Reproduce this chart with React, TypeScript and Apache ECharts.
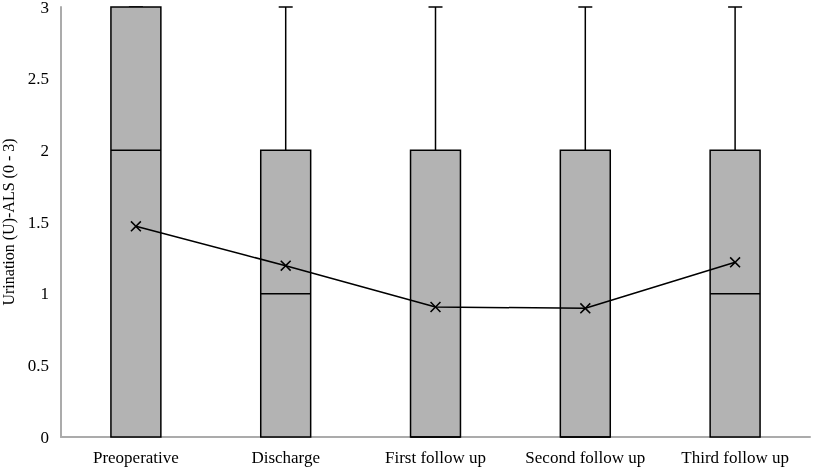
import React, { useEffect, useRef } from "react";
import * as echarts from "echarts";

const categories = ["Preoperative", "Discharge", "First follow up", "Second follow up", "Third follow up"];
// [min, Q1, median, Q3, max]
const boxStats = [
  [0, 0, 2, 3, 3],
  [0, 0, 1, 2, 3],
  [0, 0, 0, 2, 3],
  [0, 0, 0, 2, 3],
  [0, 0, 1, 2, 3],
];
const means = [1.47, 1.195, 0.907, 0.898, 1.219];
const yTicks = { min: 0, max: 3, interval: 0.5 };

const FONT = "'Liberation Serif', 'Times New Roman', serif";

export default function App() {
  const ref = useRef<HTMLDivElement>(null);
  useEffect(() => {
    if (!ref.current) return;
    const chart = echarts.init(ref.current, null, { renderer: "svg" });
    const boxData = boxStats.map((s, i) => [i, ...s]);
    chart.setOption({
      animation: false,
      grid: { left: 61, right: 3, top: 7, bottom: 34, containLabel: false, outerBoundsMode: "none" },
      xAxis: {
        type: "category",
        data: categories,
        axisLine: { show: true, lineStyle: { color: "#ababab", width: 2 } },
        axisTick: { show: false },
        axisLabel: { color: "#000", fontFamily: FONT, fontSize: 17, margin: 12, interval: 0, hideOverlap: false },
        splitLine: { show: false },
      },
      yAxis: {
        type: "value",
        min: yTicks.min,
        max: yTicks.max,
        interval: yTicks.interval,
        name: "Urination (U)-ALS (0 - 3)",
        nameLocation: "middle",
        nameRotate: 90,
        nameGap: 44,
        nameTextStyle: { color: "#000", fontFamily: FONT, fontSize: 16 },
        axisLine: { show: true, lineStyle: { color: "#ababab", width: 2 } },
        axisTick: { show: false },
        axisLabel: { color: "#000", fontFamily: FONT, fontSize: 17, margin: 12 },
        splitLine: { show: false },
      },
      series: [
        {
          type: "custom",
          data: boxData,
          encode: { x: 0, y: [1, 2, 3, 4, 5] },
          renderItem: (params: any, api: any) => {
            const idx = api.value(0);
            const vals = [1, 2, 3, 4, 5].map((k) => api.value(k));
            const pts = vals.map((v) => api.coord([idx, v]));
            const cx = pts[0][0];
            const bw = api.size([1, 0])[0] / 3;
            const hw = bw / 2;
            const cap = 7;
            const yMin = pts[0][1], yQ1 = pts[1][1], yMed = pts[2][1], yQ3 = pts[3][1], yMax = pts[4][1];
            const ls = { stroke: "#000", lineWidth: 1.5 };
            return {
              type: "group",
              children: [
                { type: "line", shape: { x1: cx, y1: yQ3, x2: cx, y2: yMax }, style: ls },
                { type: "line", shape: { x1: cx - cap, y1: yMax, x2: cx + cap, y2: yMax }, style: ls },
                { type: "line", shape: { x1: cx, y1: yQ1, x2: cx, y2: yMin }, style: ls },
                {
                  type: "rect",
                  shape: { x: cx - hw, y: yQ3, width: bw, height: yQ1 - yQ3 },
                  style: { fill: "#b3b3b3", stroke: "#000", lineWidth: 1.5 },
                },
                { type: "line", shape: { x1: cx - hw, y1: yMed, x2: cx + hw, y2: yMed }, style: ls },
              ],
            };
          },
          z: 2,
        },
        {
          type: "line",
          data: means,
          symbol: "path://M0,1L1,0L5,4L9,0L10,1L6,5L10,9L9,10L5,6L1,10L0,9L4,5Z",
          symbolSize: 11,
          itemStyle: { color: "#000" },
          lineStyle: { color: "#000", width: 1.5 },
          z: 5,
        },
      ],
    });
    return () => chart.dispose();
  }, []);
  return <div ref={ref} style={{ position: "fixed", left: 0, top: 0, width: 813, height: 471 }} />;
}
